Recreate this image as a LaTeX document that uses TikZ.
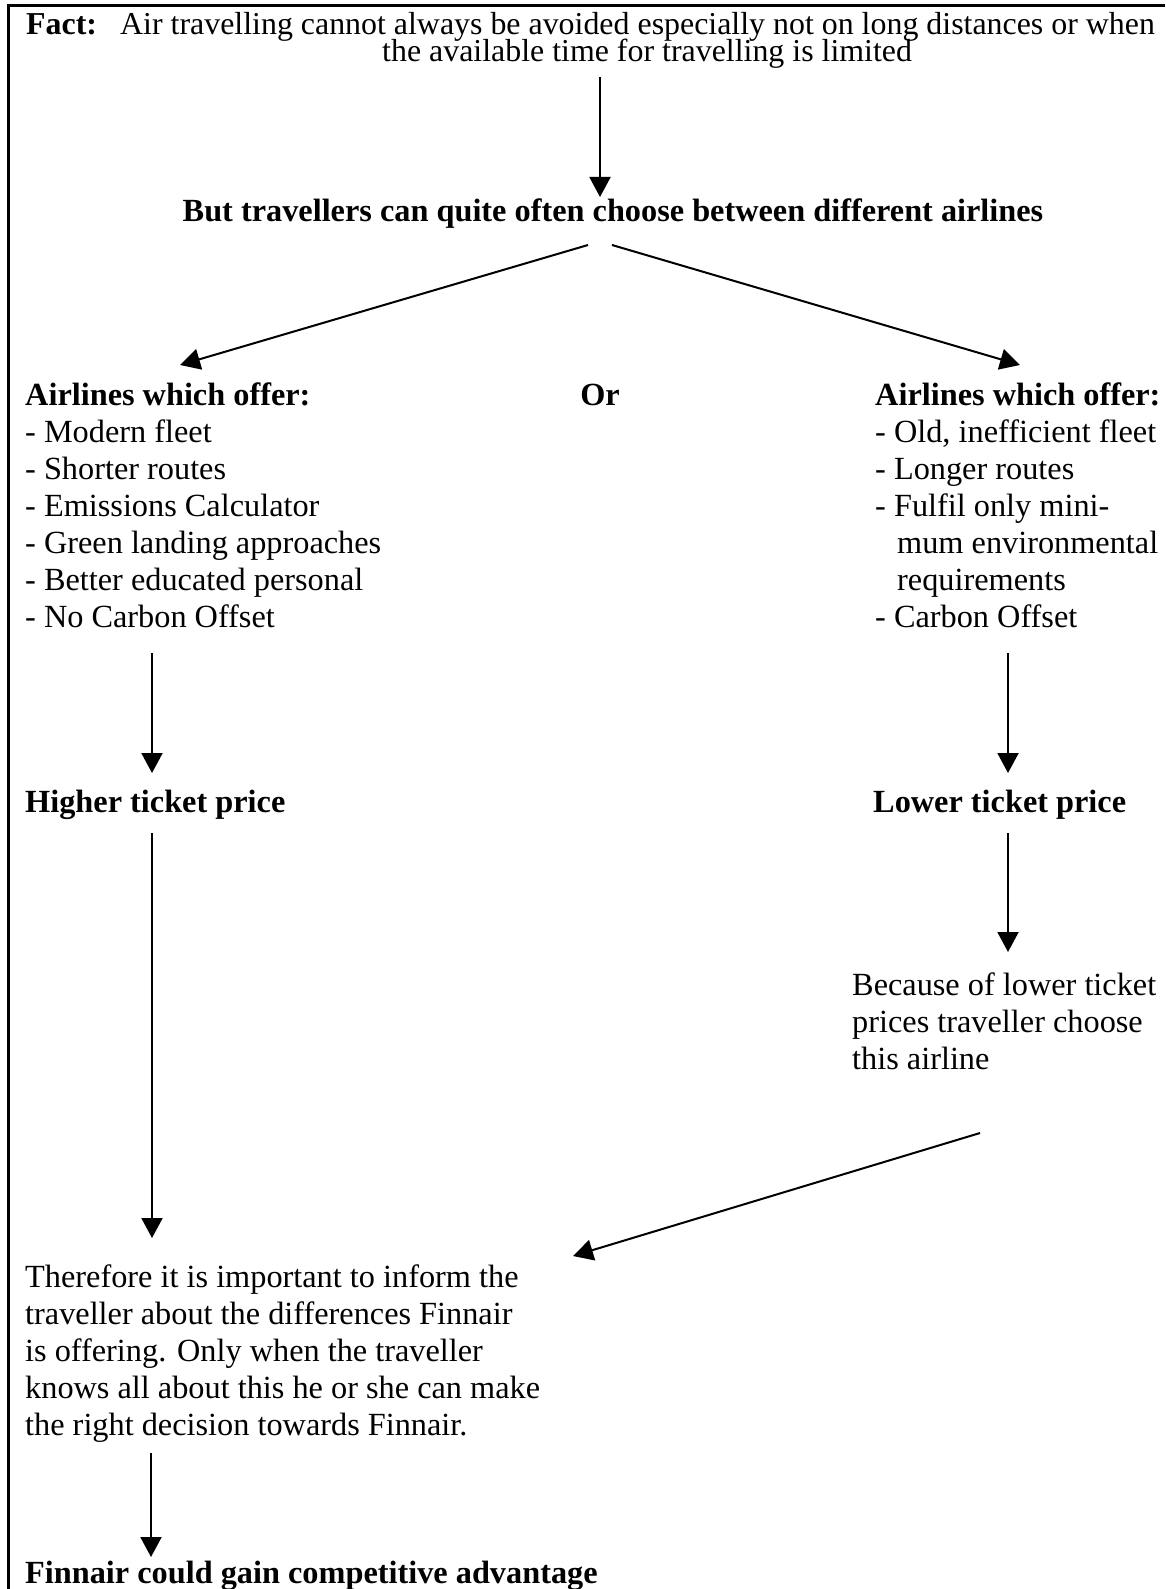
\documentclass[tikz,border=0pt]{standalone}
\usepackage{fontspec}
\setmainfont{Liberation Serif}
\usetikzlibrary{arrows.meta}
\newcommand\fsz{\fontsize{32.3}{37}\selectfont}
\newcommand\fszs{\fontsize{31.9}{27}\selectfont}
\begin{document}
\begin{tikzpicture}[x=1pt,y=-1pt,
  txt/.style={inner sep=0pt, anchor=base west, font=\fsz},
  ctxt/.style={txt, anchor=base},
  stxt/.style={inner sep=0pt, anchor=base west, font=\fszs},
  arr/.style={line width=2pt, -{Triangle[length=20pt,width=21pt]}},
  frame/.style={line width=3pt}]
\useasboundingbox (0,0) rectangle (1165,1589);
\draw[frame] (8,1589) -- (8,6) -- (1165,6);

% texts
\node[stxt] (factlabel) at (26,35) {\textbf{Fact:}};
\node[stxt] (fact) at (120,35) {Air travelling cannot always be avoided especially not on long distances or when};
\node[stxt] (fact2) at (382,62) {the available time for travelling is limited};
\node[ctxt] (choose) at (613,222) {\textbf{But travellers can quite often choose between different airlines}};
\node[txt] (left) at (25,405) {\begin{tabular}[t]{@{}l@{}}\textbf{Airlines which offer:}\\- Modern fleet\\- Shorter routes\\- Emissions Calculator\\- Green landing approaches\\- Better educated personal\\- No Carbon Offset\end{tabular}};
\node[ctxt] (or) at (600,405) {\textbf{Or}};
\node[txt] (right) at (875,405) {\begin{tabular}[t]{@{}l@{}}\textbf{Airlines which offer:}\\- Old, inefficient fleet\\- Longer routes\\- Fulfil only mini-\\\hspace*{22pt}mum environmental\\\hspace*{22pt}requirements\\- Carbon Offset\end{tabular}};
\node[txt] (higher) at (25,812) {\textbf{Higher ticket price}};
\node[txt] (lower) at (873,812) {\textbf{Lower ticket price}};
\node[txt] (because) at (852,995) {\begin{tabular}[t]{@{}l@{}}Because of lower ticket\\prices traveller choose\\this airline\end{tabular}};
\node[txt] (therefore) at (25,1287) {\begin{tabular}[t]{@{}l@{}}Therefore it is important to inform the\\traveller about the differences Finnair\\is offering. Only when the traveller\\knows all about this he or she can make\\the right decision towards Finnair.\end{tabular}};
\node[txt] (gain) at (25,1583) {\textbf{Finnair could gain competitive advantage}};

% connector end points
\coordinate (f-out) at (600,77);
\coordinate (c-in) at (600,197);
\coordinate (c-outl) at (588,245);
\coordinate (c-outr) at (612,245);
\coordinate (l-in) at (180,365);
\coordinate (r-in) at (1020,365);
\coordinate (l-out) at (152,653);
\coordinate (h-in) at (152,773);
\coordinate (r-out) at (1008,653);
\coordinate (lo-in) at (1008,773);
\coordinate (lo-out) at (1008,833);
\coordinate (b-in) at (1008,952);
\coordinate (h-out) at (152,833);
\coordinate (t-in) at (152,1238);
\coordinate (b-out) at (980,1133);
\coordinate (t-inr) at (573,1256);
\coordinate (t-out) at (151,1453);
\coordinate (g-in) at (151,1557);

\draw[arr] (f-out) -- (c-in);
\draw[arr] (c-outl) -- (l-in);
\draw[arr] (c-outr) -- (r-in);
\draw[arr] (l-out) -- (h-in);
\draw[arr] (r-out) -- (lo-in);
\draw[arr] (lo-out) -- (b-in);
\draw[arr] (h-out) -- (t-in);
\draw[arr] (b-out) -- (t-inr);
\draw[arr] (t-out) -- (g-in);
\end{tikzpicture}
\end{document}
